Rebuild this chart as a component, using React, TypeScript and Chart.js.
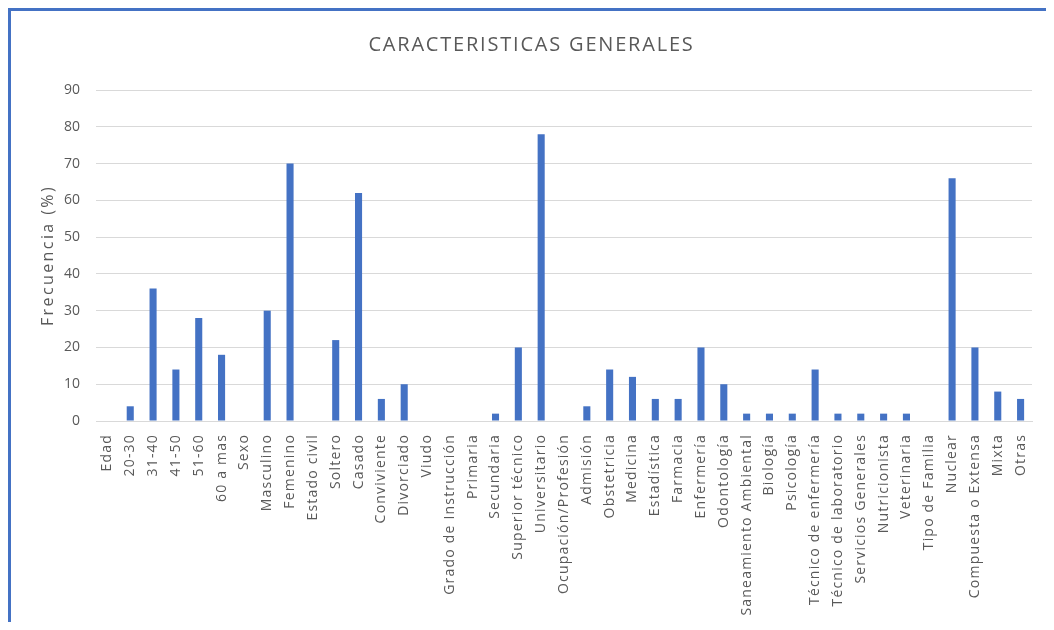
import React, { useEffect, useRef } from "react";
import { Chart, registerables } from "chart.js";

Chart.register(...registerables);

const categories = [
  "Edad", "20-30", "31-40", "41-50", "51-60", "60 a mas",
  "Sexo", "Masculino", "Femenino",
  "Estado civil", "Soltero", "Casado", "Conviviente", "Divorciado", "Viudo",
  "Grado de Instrucción", "Primaria", "Secundaria", "Superior técnico", "Universitario",
  "Ocupación/Profesión", "Admisión", "Obstetricia", "Medicina", "Estadística", "Farmacia",
  "Enfermería", "Odontología", "Saneamiento Ambiental", "Biología", "Psicología",
  "Técnico de enfermería", "Técnico de laboratorio", "Servicios Generales", "Nutricionista", "Veterinaria",
  "Tipo de Familia", "Nuclear", "Compuesta o Extensa", "Mixta", "Otras",
];

const frecuencia = [
  0, 4, 36, 14, 28, 18,
  0, 30, 70,
  0, 22, 62, 6, 10, 0,
  0, 0, 2, 20, 78,
  0, 4, 14, 12, 6, 6,
  20, 10, 2, 2, 2,
  14, 2, 2, 2, 2,
  0, 66, 20, 8, 6,
];

const yMin = 0;
const yMax = 90;
const yStep = 10;

const chartTitle = "CARACTERISTICAS GENERALES";
const yTitle = "Frecuencia (%)";

const FONT = "'Open Sans', 'Noto Sans', sans-serif";
const TEXT = "#595959";

function withSpacing(chart: any, obj: any, method: string, px: number) {
  const orig = obj[method].bind(obj);
  obj[method] = (...args: any[]) => {
    const ctx = chart.ctx;
    const prev = ctx.letterSpacing;
    ctx.letterSpacing = px + "px";
    try {
      orig(...args);
    } finally {
      ctx.letterSpacing = prev;
    }
  };
}

export default function App() {
  const ref = useRef<HTMLCanvasElement | null>(null);

  useEffect(() => {
    document.body.style.overflow = "hidden";
    if (!ref.current) return;
    const chart: any = new Chart(ref.current, {
      type: "bar",
      data: {
        labels: categories,
        datasets: [
          {
            data: frecuencia,
            backgroundColor: "#4472C4",
            borderWidth: 0,
            barPercentage: 0.31,
            categoryPercentage: 1,
          },
        ],
      },
      options: {
        animation: false,
        responsive: false,
        maintainAspectRatio: false,
        layout: { padding: { left: 20, right: 21, top: 0, bottom: 0 } },
        plugins: {
          legend: { display: false },
          tooltip: { enabled: false },
          title: {
            display: true,
            text: chartTitle,
            color: TEXT,
            font: { family: FONT, size: 20, weight: "normal" },
            padding: { top: 22, bottom: 33 },
          },
        },
        scales: {
          x: {
            grid: { display: false },
            border: { display: true, color: "#d9d9d9", width: 1 },
            ticks: {
              color: TEXT,
              font: { family: FONT, size: 14 },
              minRotation: 90,
              maxRotation: 90,
              autoSkip: false,
              padding: 5,
            },
            afterFit: (s: any) => {
              s.height = 201;
            },
          },
          y: {
            min: yMin,
            max: yMax,
            ticks: {
              stepSize: yStep,
              color: TEXT,
              font: { family: FONT, size: 14 },
              padding: 16,
            },
            grid: { color: "#d9d9d9", lineWidth: 1, drawTicks: false },
            border: { display: false },
            title: {
              display: true,
              text: yTitle,
              color: TEXT,
              font: { family: FONT, size: 16 },
              padding: { top: 8, bottom: 0 },
            },
            afterFit: (s: any) => {
              s.width = 65;
            },
          },
        },
      },
    });
    if (chart.titleBlock) withSpacing(chart, chart.titleBlock, "draw", 1.8);
    withSpacing(chart, chart.scales.x, "drawLabels", 1.2);
    withSpacing(chart, chart.scales.y, "drawTitle", 2.4);
    chart.draw();
    return () => chart.destroy();
  }, []);

  return (
    <div
      style={{
        width: 1042,
        height: 611,
        borderTop: "3px solid #4472C4",
        borderLeft: "3px solid #4472C4",
        borderRight: "1px solid #d9d9d9",
        background: "#fff",
        position: "relative",
      }}
    >
      <canvas ref={ref} width={1042} height={611} style={{ display: "block" }} />
    </div>
  );
}
